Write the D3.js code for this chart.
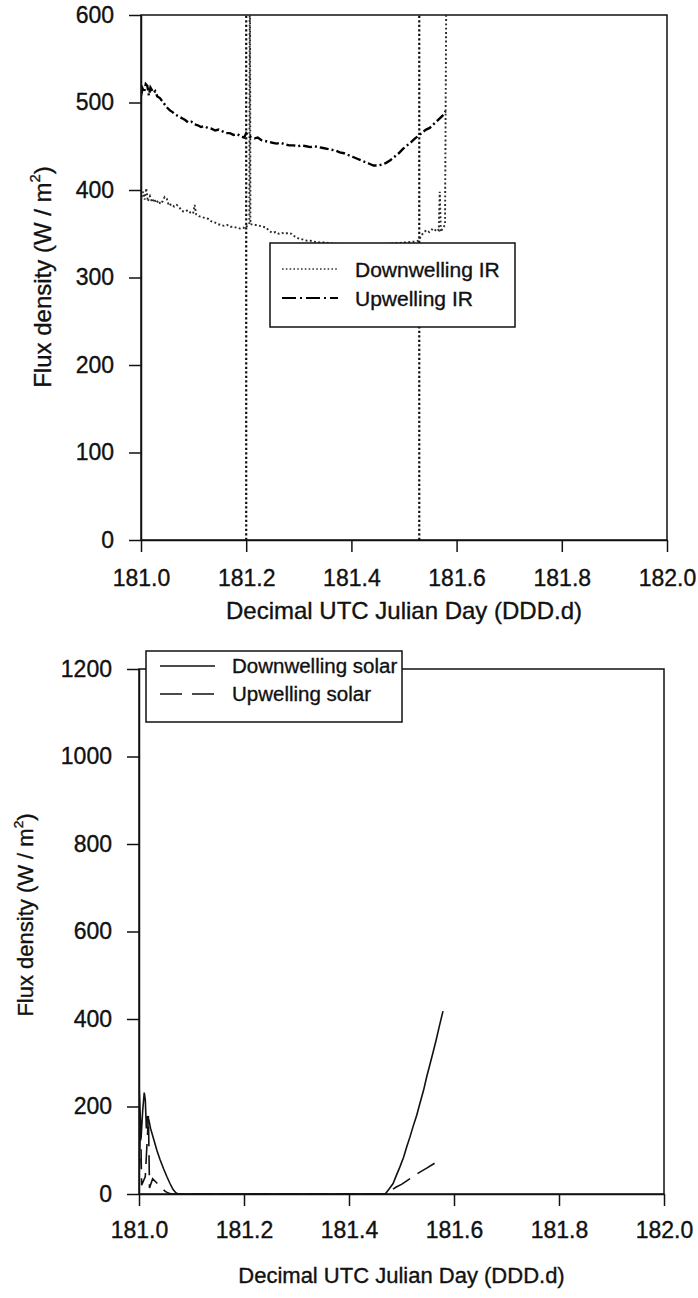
<!DOCTYPE html>
<html>
<head>
<meta charset="utf-8">
<script src="https://cdn.jsdelivr.net/npm/d3@7"></script>
<style>
  html, body { margin: 0; padding: 0; background: #fff; }
  svg { display: block; font-family: "Liberation Sans", Arial, sans-serif; }
  svg text { stroke: #111; stroke-width: 0.35px; }
</style>
</head>
<body>
<svg id="fig" width="698" height="1298"></svg>
<script>
// ---------- Longwave (IR) fluxes, W/m^2 ----------
const upIrDay = [181.000,181.003,181.006,181.009,181.012,181.015,181.018,181.021,181.024,181.027,
  181.031,181.036,181.041,181.046,181.050,181.055,181.060,181.066,181.072,181.078,181.084,181.090,
  181.096,181.102,181.108,181.114,181.120,181.127,181.134,181.141,181.148,181.155,181.162,181.169,
  181.176,181.183,181.190,181.196,181.200,181.204,181.210,181.216,181.222,181.229,181.236,181.243,
  181.250,181.258,181.266,181.274,181.282,181.290,181.298,181.306,181.314,181.322,181.330,181.338,
  181.346,181.354,181.362,181.370,181.378,181.386,181.394,181.402,181.410,181.418,181.426,181.434,
  181.442,181.450,181.458,181.466,181.474,181.482,181.490,181.498,181.506,181.514,181.521,181.528,
  181.535,181.542,181.549,181.556,181.563,181.570,181.575,181.579];
const upIrFlux = [508,516,512,521,519,508,517,514,511,513,
  507,505,501,497,494,491,489,486,484,482,480,477,
  478,475,474,472,473,471,470,468,469,467,465,465,
  463,464,461,460,465,462,460,459,460,457,456,455,
  454,453,454,452,451,451,450,451,450,449,450,449,
  448,447,446,445,443,442,440,438,436,434,432,430,
  428,428,429,431,434,438,442,447,451,455,459,462,
  466,469,471,475,479,483,486,490];

// 700 marks off-scale readings (clipped at the top of the plot)
const downIrDay = [181.001,181.004,181.007,181.010,181.013,181.017,181.021,181.025,181.029,181.033,
  181.037,181.041,181.045,181.049,181.053,181.058,181.063,181.068,181.073,181.078,181.083,181.089,
  181.094,181.099,181.102,181.105,181.110,181.116,181.122,181.128,181.134,181.140,181.146,181.152,
  181.158,181.164,181.170,181.176,181.182,181.188,181.194,181.198,181.200,181.206,181.207,181.208,
  181.214,181.220,181.226,181.232,181.238,181.244,181.250,181.256,181.262,181.268,181.274,181.280,
  181.286,181.292,181.298,181.304,181.310,181.316,181.322,181.330,181.340,181.350,181.360,181.380,
  181.400,181.420,181.440,181.460,181.480,181.500,181.520,181.528,181.533,181.538,181.543,181.548,
  181.553,181.558,181.562,181.566,181.568,181.570,181.574,181.578,181.581];
const downIrFlux = [392,398,389,402,387,393,386,390,385,388,
  384,387,392,390,382,384,381,383,380,376,375,377,
  374,373,383,372,370,369,368,367,364,363,361,360,
  359,360,358,358,357,356,357,356,358,361,700,361,
  360,360,359,358,357,353,351,352,350,351,350,351,
  350,347,345,344,343,342,342,341,340,340,339,338,
  338,337,338,338,339,340,341,342,348,352,354,352,
  355,353,356,354,398,352,357,360,700];

// Days where the record drops out (drawn as full-height dotted markers)
const irGapDays = [181.2, 181.529];

// ---------- Shortwave (solar) fluxes, W/m^2 ----------
const downSolarDay = [181.000,181.002,181.004,181.007,181.010,181.012,181.014,181.016,181.019,181.022,
  181.028,181.034,181.040,181.047,181.053,181.059,181.065,181.070,181.075,181.469,181.476,181.484,
  181.490,181.497,181.504,181.510,181.516,181.522,181.529,181.535,181.542,181.548,181.555,181.561,
  181.566,181.572,181.579];
const downSolarFlux = [252,190,128,190,232,215,150,178,168,150,
  125,100,79,57,40,24,10,3,0,0,11,24,
  42,62,84,108,130,154,180,207,237,268,300,328,
  352,383,418];

const upSolarDay = [181.000,181.003,181.005,181.012,181.018,181.020,181.026,181.034,181.042,181.050,
  181.056,181.062,181.469,181.480,181.490,181.500,181.510,181.522,181.535,181.548,181.560,181.568,181.578];
const upSolarFlux = [35,168,20,40,178,14,35,25,15,6,
  2,0,0,8,16,22,30,40,50,59,68,74,80];

// ---------- Axes ----------
const dayTicks = [181.0, 181.2, 181.4, 181.6, 181.8, 182.0];
const irFluxTicks = [0, 100, 200, 300, 400, 500, 600];
const solarFluxTicks = [0, 200, 400, 600, 800, 1000, 1200];
const xTitle = "Decimal UTC Julian Day (DDD.d)";

const svg = d3.select("#fig");

function zip(days, vals) { return days.map((d, i) => ({ day: d, v: vals[i] })); }

function drawPanel(cfg) {
  const x = d3.scaleLinear().domain([181, 182]).range([cfg.left, cfg.right]);
  const y = d3.scaleLinear().domain([0, cfg.yMax]).range([cfg.bottom, cfg.top]);
  const g = svg.append("g");

  // frame (top and right sides)
  g.append("rect")
    .attr("x", cfg.left).attr("y", cfg.top)
    .attr("width", cfg.right - cfg.left).attr("height", cfg.bottom - cfg.top)
    .attr("fill", "none").attr("stroke", "#111").attr("stroke-width", 1.5);

  const clipId = "clip-" + cfg.id;
  svg.append("clipPath").attr("id", clipId)
    .append("rect")
    .attr("x", cfg.left).attr("y", cfg.top)
    .attr("width", cfg.right - cfg.left).attr("height", cfg.bottom - cfg.top);

  const plot = g.append("g").attr("clip-path", `url(#${clipId})`);

  // axes
  const xAxis = g.append("g")
    .attr("transform", `translate(0,${cfg.bottom})`)
    .call(d3.axisBottom(x).tickValues(dayTicks).tickFormat(d3.format(".1f"))
      .tickSize(12).tickSizeOuter(0).tickPadding(cfg.xPad));
  const yAxis = g.append("g")
    .attr("transform", `translate(${cfg.left},0)`)
    .call(d3.axisLeft(y).tickValues(cfg.yTicks).tickFormat(d3.format("d"))
      .tickSize(12).tickSizeOuter(0).tickPadding(15));
  [xAxis, yAxis].forEach(a => {
    a.select(".domain").attr("stroke", "#111").attr("stroke-width", 1.5);
    a.selectAll(".tick line").attr("stroke", "#111").attr("stroke-width", 1.5);
    a.selectAll(".tick text").attr("fill", "#111").style("font-size", "23px")
      .style("font-family", '"Liberation Sans", Arial, sans-serif');
  });

  // axis titles
  g.append("text")
    .attr("x", (cfg.left + cfg.right) / 2).attr("y", cfg.xTitleY)
    .attr("text-anchor", "middle").attr("fill", "#111")
    .style("font-size", cfg.titleSize + "px")
    .text(xTitle);

  const yt = g.append("text")
    .attr("transform", `translate(${cfg.yTitleX},${cfg.yTitleY}) rotate(-90)`)
    .attr("text-anchor", "middle").attr("fill", "#111")
    .style("font-size", cfg.titleSize + "px");
  yt.append("tspan").text("Flux density (W / m");
  yt.append("tspan").attr("dy", "-0.75em").style("font-size", "0.62em").text("2");
  yt.append("tspan").attr("dy", "0.465em").text(")");

  return { x, y, g, plot };
}

const line = (x, y) => d3.line().x(d => x(d.day)).y(d => y(d.v));

// ---------- Top panel: IR ----------
const ir = drawPanel({
  id: "ir", left: 141, right: 667, top: 15, bottom: 540, yMax: 600, xPad: 18,
  yTicks: irFluxTicks, xTitleY: 619, yTitleX: 51, yTitleY: 277, titleSize: 24
});

ir.plot.selectAll("line.gap").data(irGapDays).join("line")
  .attr("class", "gap")
  .attr("x1", d => ir.x(d)).attr("x2", d => ir.x(d))
  .attr("y1", ir.y(0)).attr("y2", ir.y(600))
  .attr("stroke", "#111").attr("stroke-width", 2.2).attr("stroke-dasharray", "2.2,2.3");

ir.plot.append("path").datum(zip(downIrDay, downIrFlux))
  .attr("d", line(ir.x, ir.y))
  .attr("fill", "none").attr("stroke", "#2a2a2a").attr("stroke-width", 1.9)
  .attr("stroke-dasharray", "1.9,2.4");

ir.plot.append("path").datum(zip(upIrDay, upIrFlux))
  .attr("d", line(ir.x, ir.y))
  .attr("fill", "none").attr("stroke", "#000").attr("stroke-width", 2.4)
  .attr("stroke-dasharray", "9,3,2,3");

// legend
const irLegend = [
  { label: "Downwelling IR", stroke: "#333", width: 1.6, dash: "1.6,2.2" },
  { label: "Upwelling IR", stroke: "#000", width: 2, dash: "14,4,2,4" }
];
const irLg = svg.append("g");
irLg.append("rect").attr("x", 270).attr("y", 243).attr("width", 245).attr("height", 84)
  .attr("fill", "#fff").attr("stroke", "#111").attr("stroke-width", 1.5);
irLegend.forEach((d, i) => {
  const ry = 269 + i * 29;
  irLg.append("line").attr("x1", 282).attr("x2", 338).attr("y1", ry).attr("y2", ry)
    .attr("stroke", d.stroke).attr("stroke-width", d.width).attr("stroke-dasharray", d.dash);
  irLg.append("text").attr("x", 355).attr("y", ry).attr("dy", "0.36em")
    .attr("fill", "#111").style("font-size", "21px").text(d.label);
});

// ---------- Bottom panel: solar ----------
const sw = drawPanel({
  id: "sw", left: 139, right: 664, top: 669, bottom: 1194, yMax: 1200, xPad: 16,
  yTicks: solarFluxTicks, xTitleY: 1283, yTitleX: 33, yTitleY: 915, titleSize: 22
});

sw.plot.append("path").datum(zip(downSolarDay, downSolarFlux))
  .attr("d", line(sw.x, sw.y))
  .attr("fill", "none").attr("stroke", "#111").attr("stroke-width", 1.6);

sw.plot.append("path").datum(zip(upSolarDay, upSolarFlux))
  .attr("d", line(sw.x, sw.y))
  .attr("fill", "none").attr("stroke", "#111").attr("stroke-width", 1.6)
  .attr("stroke-dasharray", "20,9");

const swLegend = [
  { label: "Downwelling solar", dash: null },
  { label: "Upwelling solar", dash: "22,10" }
];
const swLg = svg.append("g");
swLg.append("rect").attr("x", 146).attr("y", 651).attr("width", 256).attr("height", 71)
  .attr("fill", "#fff").attr("stroke", "#111").attr("stroke-width", 1.5);
swLegend.forEach((d, i) => {
  const ry = 666 + i * 28;
  swLg.append("line").attr("x1", 160).attr("x2", 215).attr("y1", ry).attr("y2", ry)
    .attr("stroke", "#111").attr("stroke-width", 1.5).attr("stroke-dasharray", d.dash);
  swLg.append("text").attr("x", 232).attr("y", ry).attr("dy", "0.36em")
    .attr("fill", "#111").style("font-size", "20.5px").text(d.label);
});
</script>
</body>
</html>
